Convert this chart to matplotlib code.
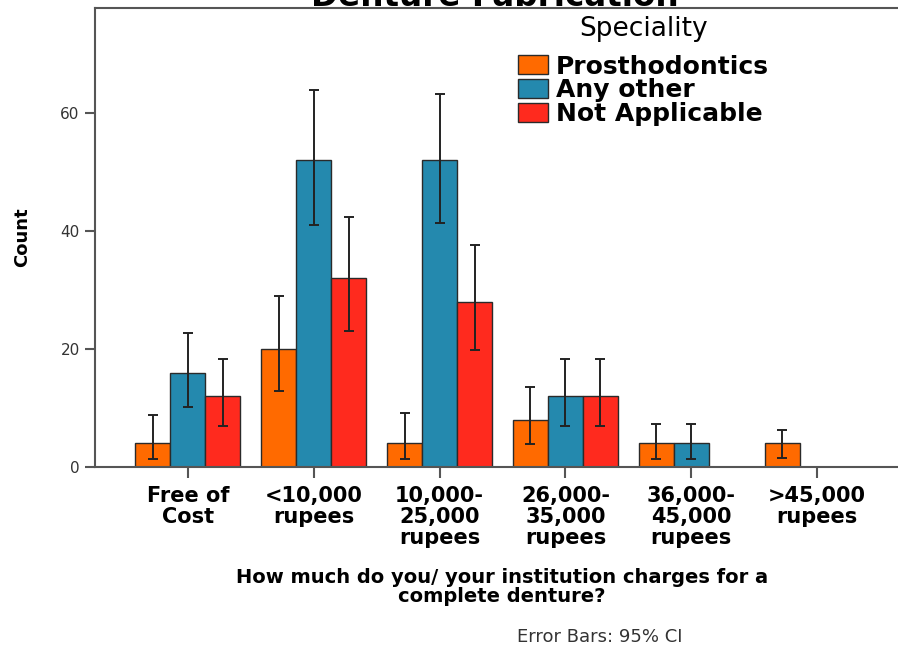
import matplotlib
matplotlib.use("Agg")
import matplotlib.pyplot as plt
import numpy as np

# categories and counts
categories = ["Free of\nCost", "<10,000\nrupees", "10,000-\n25,000\nrupees",
              "26,000-\n35,000\nrupees", "36,000-\n45,000\nrupees", ">45,000\nrupees"]
series_names = ["Prosthodontics", "Any other", "Not Applicable"]
prostho = [4, 20, 4, 8, 4, 4]
any_other = [16, 52, 52, 12, 4, 0]
not_applicable = [12, 32, 28, 12, 0, 0]

# 95% CI bounds (lower, upper); None where no bar
prostho_ci = [(1.3, 8.8), (12.9, 28.9), (1.3, 9.1), (3.9, 13.6), (1.4, 7.3), (1.5, 6.3)]
any_other_ci = [(10.2, 22.7), (41.0, 63.9), (41.3, 63.3), (6.9, 18.3), (1.4, 7.3), None]
not_applicable_ci = [(6.9, 18.3), (23.1, 42.3), (19.8, 37.6), (6.9, 18.3), None, None]

colors = ["#ff6a00", "#2489ae", "#ff2a1e"]

W, H = 898, 650
fig = plt.figure(figsize=(W / 100, H / 100), dpi=100)
ax = fig.add_axes([95 / W, 1 - 467 / H, 1 - 95 / W, (467 - 8) / H])

x = np.arange(len(categories))
width = 0.278
series = [prostho, any_other, not_applicable]
cis = [prostho_ci, any_other_ci, not_applicable_ci]

for i, (vals, ci, name, col) in enumerate(zip(series, cis, series_names, colors)):
    pos = x + (i - 1) * width
    ax.bar(pos, vals, width=width, color=col, edgecolor="#2a2a2a", linewidth=1.0,
           label=name, zorder=2)
    for p, v, c in zip(pos, vals, ci):
        if c is None:
            continue
        ax.errorbar(p, v, yerr=[[v - c[0]], [c[1] - v]], fmt="none", ecolor="#222222",
                    elinewidth=1.4, capsize=3.5, capthick=1.4, zorder=3)

ax.set_xlim(-0.738, 5.643)
ax.set_ylim(0, 77.8)
ax.set_yticks([0, 20, 40, 60])
ax.set_xticks(x)
ax.set_xticklabels(categories, fontsize=15, fontweight="bold", linespacing=1.05)
ax.tick_params(axis="x", length=8, width=1.5, color="#555555", pad=6)
ax.tick_params(axis="y", length=7, width=1.5, color="#555555", labelsize=11,
               labelcolor="#333333", pad=4)

for side in ["left", "top", "bottom"]:
    ax.spines[side].set_color("#555555")
    ax.spines[side].set_linewidth(1.5)
ax.spines["right"].set_visible(False)

leg = ax.legend(loc="upper left", bbox_to_anchor=(518 / W, 1 - 16 / H),
                bbox_transform=fig.transFigure, frameon=False, title="Speciality",
                prop={"size": 18, "weight": "bold"}, title_fontsize=19,
                handlelength=1.2, handleheight=0.8, handletextpad=0.3,
                labelspacing=0.0, borderpad=0, borderaxespad=0)
leg._legend_box.align = "center"
leg._legend_box.sep = 9

fig.text(495 / W, 1 - 6 / H, "Denture Fabrication", ha="center", va="baseline",
         fontsize=23.5, fontweight="bold")
fig.text(22 / W, 1 - 237 / H, "Count", rotation=90, ha="center", va="center",
         fontsize=13, fontweight="bold")
fig.text(502 / W, 1 - 587 / H,
         "How much do you/ your institution charges for a\ncomplete denture?",
         ha="center", va="center", fontsize=14, fontweight="bold", linespacing=1.0)
fig.text(600 / W, 1 - 637 / H, "Error Bars: 95% CI", ha="center", va="center",
         fontsize=13, color="#333333")

fig.savefig("out.png", dpi=100)
